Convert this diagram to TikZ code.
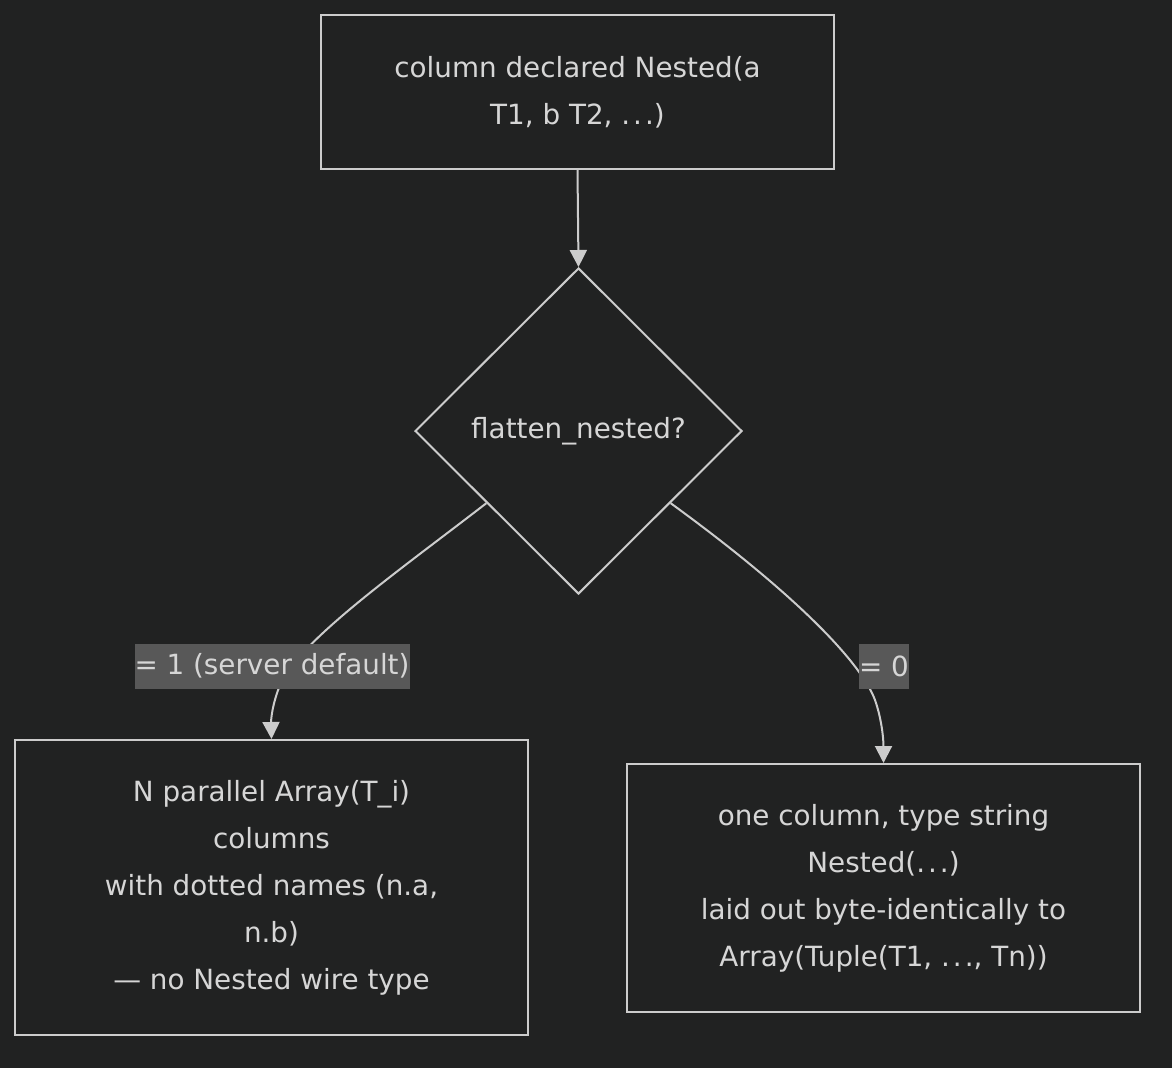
\documentclass[tikz,border=0pt]{standalone}
\usepackage{fontspec}
\setmainfont{DejaVu Sans}
\usetikzlibrary{shapes.geometric,arrows.meta,calc}
\definecolor{bgc}{RGB}{33,34,34}
\definecolor{fgc}{RGB}{204,204,204}
\definecolor{txc}{RGB}{214,214,214}
\definecolor{labc}{RGB}{88,88,88}
\newcommand{\mydots}{.\kern3pt.\kern3pt.}
\begin{document}
\begin{tikzpicture}[x=1pt,y=-1pt,
  every node/.style={text=txc,font=\fontsize{27.8}{47}\selectfont},
  procbox/.style={draw=fgc,line width=2pt,rectangle,minimum width=513pt,align=center,inner sep=0pt},
  decision/.style={draw=fgc,line width=2pt,diamond,minimum width=327pt,minimum height=326pt,inner sep=0pt},
  edge/.style={draw=fgc,line width=2pt,-{Triangle[length=17pt,width=17pt]}},
  elabel/.style={fill=labc,inner xsep=0pt,inner ysep=0pt,minimum height=45pt}]
\fill[bgc] (0,0) rectangle (1172,1068);
\useasboundingbox (0,0) rectangle (1172,1068);
\node[procbox,minimum height=154pt] (top) at (577.5,92) {column declared Nested(a\\T1, b T2, \mydots)};
\node[decision] (dia) at (578.5,431) {flatten\_nested?};
\node[procbox,minimum height=295pt] (lb) at (271.5,887.5) {N parallel Array(T\_i)\\columns\\with dotted names (n.a,\\n.b)\\— no Nested wire type};
\node[procbox,minimum height=248pt] (rb) at (883.5,888) {one column, type string\\Nested(\mydots)\\laid out byte-identically to\\Array(Tuple(T1, \mydots, Tn))};
\coordinate (ls) at ($(dia.west)!0.44!(dia.south)$);
\coordinate (rs) at ($(dia.east)!0.44!(dia.south)$);
\draw[edge] (top.south) -- (dia.north);
\draw[edge] (ls) .. controls (400,570) and (300,640) .. (280,685) .. controls (272,705) and (271,720) .. (lb.north);
\draw[edge] (rs) .. controls (790,590) and (860,660) .. (875,700) .. controls (882,720) and (883.5,740) .. (rb.north);
\node[elabel] (l1) at (272,666) {= 1 (server default)};
\node[elabel] (l0) at (884,666) {= 0};
\end{tikzpicture}
\end{document}
